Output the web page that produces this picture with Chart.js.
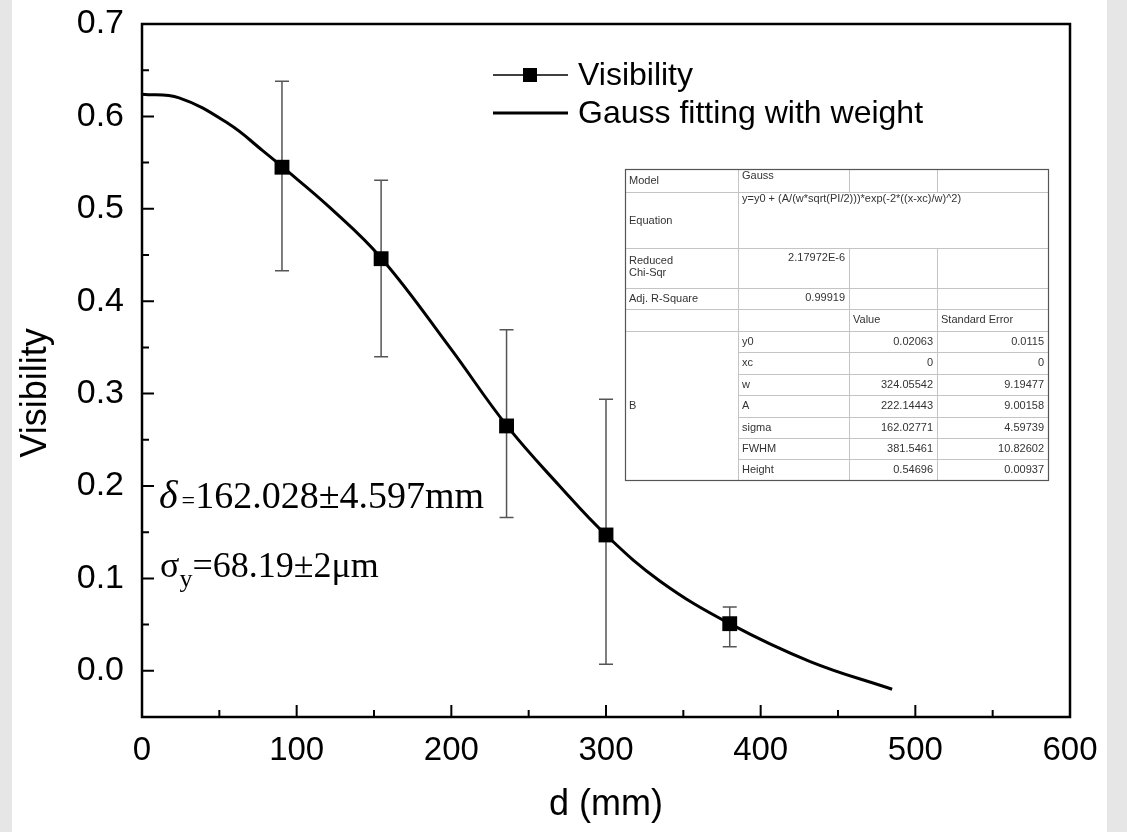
<!DOCTYPE html>
<html>
<head>
<meta charset="utf-8">
<script src="https://cdn.jsdelivr.net/npm/chart.js@4.4.1/dist/chart.umd.min.js"></script>
<style>
  html, body { margin: 0; padding: 0; background: #fff; }
  #wrap { width: 1127px; height: 832px; }
</style>
</head>
<body>
<div id="wrap"><canvas id="chart" width="1127" height="832"></canvas></div>
<script>
// measured points
const distance   = [90.5, 154.6, 235.7, 300, 380];
const visibility = [0.545, 0.446, 0.265, 0.147, 0.051];
const errLow     = [0.433, 0.340, 0.166, 0.007, 0.026];
const errHigh    = [0.638, 0.531, 0.369, 0.294, 0.069];

// fitted curve
const fitX = [0, 24, 56, 78, 91, 121, 155, 199, 236, 270, 300, 335, 380, 432, 485];
const fitY = [0.624, 0.620, 0.592, 0.563, 0.545, 0.502, 0.446, 0.350, 0.265, 0.200, 0.147, 0.097, 0.051, 0.010, -0.020];

const xTicks = [0, 100, 200, 300, 400, 500, 600];
const xMinor = [50, 150, 250, 350, 450, 550];
const yTicks = [0, 0.1, 0.2, 0.3, 0.4, 0.5, 0.6, 0.7];
const yMinor = [0.05, 0.15, 0.25, 0.35, 0.45, 0.55, 0.65];

// fit report table
const paramNames  = ['y0', 'xc', 'w', 'A', 'sigma', 'FWHM', 'Height'];
const paramValues = ['0.02063', '0', '324.05542', '222.14443', '162.02771', '381.5461', '0.54696'];
const paramErrors = ['0.0115', '0', '9.19477', '9.00158', '4.59739', '10.82602', '0.00937'];
const equationText = 'y=y0 + (A/(w*sqrt(PI/2)))*exp(-2*((x-xc)/w)^2)';
const chiSqr = '2.17972E-6';
const adjR2 = '0.99919';

const sans = '"Liberation Sans", Arial, sans-serif';
const serif = '"Liberation Serif", "Times New Roman", serif';

const decor = {
  id: 'decor',
  beforeDraw(chart) {
    const c = chart.ctx;
    c.save();
    c.fillStyle = '#fff';
    c.fillRect(0, 0, chart.width, chart.height);
    c.fillStyle = '#e6e6e6';
    c.fillRect(0, 0, 12, chart.height);
    c.fillRect(1107, 0, 20, chart.height);
    c.restore();
  },
  beforeDatasetsDraw(chart) {
    const c = chart.ctx, xs = chart.scales.x, ys = chart.scales.y;
    c.save();
    c.strokeStyle = '#555';
    c.lineWidth = 1.5;
    distance.forEach((d, i) => {
      const px = xs.getPixelForValue(d);
      const top = ys.getPixelForValue(errHigh[i]);
      const bot = ys.getPixelForValue(errLow[i]);
      c.beginPath();
      c.moveTo(px, top); c.lineTo(px, bot);
      c.moveTo(px - 7, top); c.lineTo(px + 7, top);
      c.moveTo(px - 7, bot); c.lineTo(px + 7, bot);
      c.stroke();
    });
    c.restore();
  },
  afterDraw(chart) {
    const c = chart.ctx, a = chart.chartArea, xs = chart.scales.x, ys = chart.scales.y;
    c.save();
    // frame
    c.strokeStyle = '#000';
    c.lineWidth = 2.5;
    c.strokeRect(a.left, a.top, a.right - a.left, a.bottom - a.top);
    // inward ticks
    c.lineWidth = 2;
    c.beginPath();
    xTicks.forEach(v => { const p = xs.getPixelForValue(v); c.moveTo(p, a.bottom); c.lineTo(p, a.bottom - 12); });
    xMinor.forEach(v => { const p = xs.getPixelForValue(v); c.moveTo(p, a.bottom); c.lineTo(p, a.bottom - 7); });
    yTicks.forEach(v => { const p = ys.getPixelForValue(v); c.moveTo(a.left, p); c.lineTo(a.left + 12, p); });
    yMinor.forEach(v => { const p = ys.getPixelForValue(v); c.moveTo(a.left, p); c.lineTo(a.left + 7, p); });
    c.stroke();

    // axis titles
    c.fillStyle = '#000';
    c.font = '36px ' + sans;
    c.textAlign = 'center';
    c.textBaseline = 'middle';
    c.fillText('d (mm)', (a.left + a.right) / 2, 805);
    c.save();
    c.translate(36, 393);
    c.rotate(-Math.PI / 2);
    c.fillText('Visibility', 0, 0);
    c.restore();

    // legend
    c.textAlign = 'left';
    c.font = '32px ' + sans;
    c.lineWidth = 1.5;
    c.beginPath(); c.moveTo(493, 75); c.lineTo(568, 75); c.stroke();
    c.fillRect(523, 68, 14, 14);
    c.fillText('Visibility', 578, 76);
    c.lineWidth = 3;
    c.beginPath(); c.moveTo(493, 113); c.lineTo(568, 113); c.stroke();
    c.fillText('Gauss fitting with weight', 578, 114);

    // annotations
    c.textBaseline = 'alphabetic';
    let x = 159;
    c.font = 'italic 40px ' + serif;
    c.fillText('\u03b4', x, 508); x += c.measureText('\u03b4').width + 4;
    c.font = '24px ' + serif;
    c.fillText('=', x, 508); x += c.measureText('=').width;
    c.font = '38px ' + serif;
    c.fillText('162.028\u00b14.597mm', x, 508);
    x = 160;
    c.font = '36px ' + serif;
    c.fillText('\u03c3', x, 577); x += c.measureText('\u03c3').width;
    c.font = '26px ' + serif;
    c.fillText('y', x, 587); x += c.measureText('y').width;
    c.font = '36px ' + serif;
    c.fillText('=68.19\u00b12\u03bcm', x, 577);

    // fit report table
    const cx = [625, 738, 849, 937, 1048];
    const ry = [169, 192, 248, 288, 309, 331, 352, 374, 395, 417, 438, 459, 480];
    c.lineWidth = 1;
    c.strokeStyle = '#c4c4c4';
    c.beginPath();
    [192, 248, 288, 309, 331].forEach(y => { c.moveTo(cx[0], y + 0.5); c.lineTo(cx[4], y + 0.5); });
    ry.slice(6, 12).forEach(y => { c.moveTo(cx[1], y + 0.5); c.lineTo(cx[4], y + 0.5); });
    c.moveTo(cx[1] + 0.5, ry[0]); c.lineTo(cx[1] + 0.5, ry[12]);
    [cx[2], cx[3]].forEach(x0 => {
      c.moveTo(x0 + 0.5, ry[0]); c.lineTo(x0 + 0.5, ry[1]);
      c.moveTo(x0 + 0.5, ry[2]); c.lineTo(x0 + 0.5, ry[12]);
    });
    c.stroke();
    c.strokeStyle = '#555';
    c.lineWidth = 1.2;
    c.strokeRect(cx[0] + 0.5, ry[0] + 0.5, cx[4] - cx[0], ry[12] - ry[0]);

    c.fillStyle = '#333';
    c.font = '11px ' + sans;
    c.textBaseline = 'middle';
    c.textAlign = 'left';
    c.fillText('Model', 629, 181);
    c.fillText('Gauss', 742, 176);
    c.fillText(equationText, 742, 199);
    c.fillText('Equation', 629, 221);
    c.fillText('Reduced', 629, 261);
    c.fillText('Chi-Sqr', 629, 273);
    c.fillText('Adj. R-Square', 629, 299);
    c.fillText('Value', 853, 320);
    c.fillText('Standard Error', 941, 320);
    c.fillText('B', 629, 406);
    paramNames.forEach((n, i) => c.fillText(n, 742, (ry[i + 5] + ry[i + 6]) / 2));
    c.textAlign = 'right';
    c.fillText(chiSqr, 845, 258);
    c.fillText(adjR2, 845, 298);
    paramValues.forEach((v, i) => c.fillText(v, 933, (ry[i + 5] + ry[i + 6]) / 2));
    paramErrors.forEach((v, i) => c.fillText(v, 1044, (ry[i + 5] + ry[i + 6]) / 2));
    c.restore();
  }
};

new Chart(document.getElementById('chart'), {
  data: {
    datasets: [
      {
        type: 'line',
        label: 'Gauss fitting with weight',
        data: fitX.map((x, i) => ({ x: x, y: fitY[i] })),
        borderColor: '#000',
        borderWidth: 3,
        pointRadius: 0,
        tension: 0.4,
        fill: false,
        order: 2
      },
      {
        type: 'scatter',
        label: 'Visibility',
        data: distance.map((x, i) => ({ x: x, y: visibility[i] })),
        pointStyle: 'rect',
        pointRadius: 10.5,
        backgroundColor: '#000',
        borderColor: '#000',
        borderWidth: 0,
        order: 1
      }
    ]
  },
  options: {
    responsive: false,
    animation: false,
    layout: { padding: { left: 0, top: 24, right: 57, bottom: 0 } },
    plugins: { legend: { display: false }, tooltip: { enabled: false } },
    scales: {
      x: {
        type: 'linear',
        min: 0, max: 600,
        grid: { display: false, drawTicks: false },
        border: { display: false },
        afterFit(s) { s.height = 115; s.paddingLeft = 0; s.paddingRight = 0; },
        afterBuildTicks(s) { s.ticks = xTicks.map(v => ({ value: v })); },
        ticks: { color: '#000', font: { family: sans, size: 33 }, padding: 14, maxRotation: 0 }
      },
      y: {
        type: 'linear',
        min: -0.05, max: 0.7,
        grid: { display: false, drawTicks: false },
        border: { display: false },
        afterFit(s) { s.width = 142; s.paddingTop = 0; s.paddingBottom = 0; },
        afterBuildTicks(s) { s.ticks = yTicks.map(v => ({ value: v })); },
        ticks: { color: '#000', font: { family: sans, size: 34 }, padding: 18, callback: v => v.toFixed(1) }
      }
    }
  },
  plugins: [decor]
});
</script>
</body>
</html>
